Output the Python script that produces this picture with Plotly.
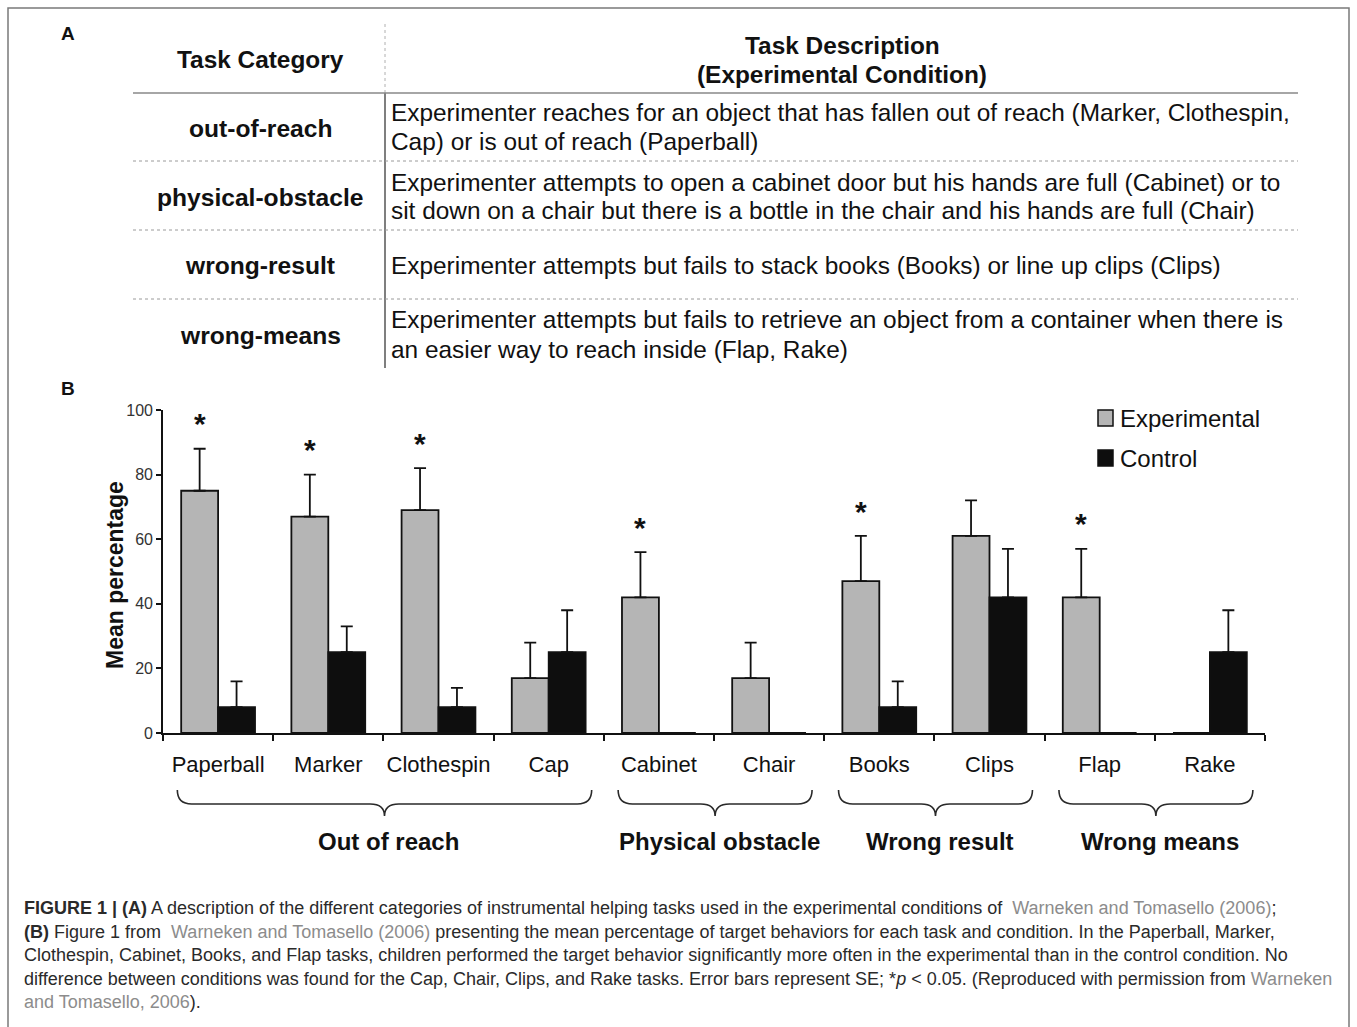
import plotly.graph_objects as go

# ---- data -------------------------------------------------------------
tasks = ["Paperball", "Marker", "Clothespin", "Cap", "Cabinet",
         "Chair", "Books", "Clips", "Flap", "Rake"]
experimental = [75, 67, 69, 17, 42, 17, 47, 61, 42, 0]
experimental_se = [13, 13, 13, 11, 14, 11, 14, 11, 15, 0]
control = [8, 25, 8, 25, 0, 0, 8, 42, 0, 25]
control_se = [8, 8, 6, 13, 0, 0, 8, 15, 0, 13]
significant = [True, True, True, False, True, False, True, False, True, False]

groups = ["Out of reach", "Physical obstacle", "Wrong result", "Wrong means"]
group_first = [0, 4, 6, 8]
group_last = [3, 5, 7, 9]

table_categories = ["out-of-reach", "physical-obstacle", "wrong-result", "wrong-means"]
table_descriptions = [
    ["Experimenter reaches for an object that has fallen out of reach (Marker, Clothespin,",
     "Cap) or is out of reach (Paperball)"],
    ["Experimenter attempts to open a cabinet door but his hands are full (Cabinet) or to",
     "sit down on a chair but there is a bottle in the chair and his hands are full (Chair)"],
    ["Experimenter attempts but fails to stack books (Books) or line up clips (Clips)"],
    ["Experimenter attempts but fails to retrieve an object from a container when there is",
     "an easier way to reach inside (Flap, Rake)"],
]

LINK = "<span style='color:#8c8c8c'>{}</span>"
caption_lines = [
    "<b>FIGURE 1 | (A)</b> A description of the different categories of instrumental helping "
    "tasks used in the experimental conditions of  " + LINK.format("Warneken and Tomasello (2006)") + ";",
    "<b>(B)</b> Figure 1 from  " + LINK.format("Warneken and Tomasello (2006)") +
    " presenting the mean percentage of target behaviors for each task and condition. In the Paperball, Marker,",
    "Clothespin, Cabinet, Books, and Flap tasks, children performed the target behavior significantly "
    "more often in the experimental than in the control condition. No",
    "difference between conditions was found for the Cap, Chair, Clips, and Rake tasks. Error bars "
    "represent SE; *<i>p</i> &lt; 0.05. (Reproduced with permission from " + LINK.format("Warneken"),
    LINK.format("and Tomasello, 2006") + ").",
]

# ---- page geometry (pixels) -------------------------------------------
W, H = 1357, 1027
FONT = "Liberation Sans, Arial, Helvetica, sans-serif"
INK = "#111111"


def px(x):
    return x / W


def py(y):
    return 1 - y / H


idx = list(range(len(tasks)))
fig = go.Figure()

fig.add_bar(
    x=idx, y=experimental, name="Experimental",
    marker=dict(color="#b5b5b5", line=dict(color=INK, width=1.8)),
    error_y=dict(type="data", array=experimental_se, arrayminus=[0] * len(tasks),
                 symmetric=False, color=INK, thickness=1.8, width=6),
)
fig.add_bar(
    x=idx, y=control, name="Control",
    marker=dict(color="#0e0e0e", line=dict(color=INK, width=1.8)),
    error_y=dict(type="data", array=control_se, arrayminus=[0] * len(tasks),
                 symmetric=False, color=INK, thickness=1.8, width=6),
)

annotations = []
shapes = []


def text(x, y, s, size, bold=False, anchor="center", color=INK, **kw):
    annotations.append(dict(
        x=px(x), y=py(y), xref="paper", yref="paper", showarrow=False,
        text=f"<b>{s}</b>" if bold else s, xanchor=anchor, yanchor="middle",
        font=dict(family=FONT, size=size, color=color), **kw))


def line(x0, y0, x1, y1, color, width, dash="solid"):
    shapes.append(dict(type="line", xref="paper", yref="paper",
                       x0=px(x0), y0=py(y0), x1=px(x1), y1=py(y1),
                       line=dict(color=color, width=width, dash=dash)))


# outer frame
shapes.append(dict(type="rect", xref="paper", yref="paper",
                   x0=px(8), y0=py(8), x1=px(1349), y1=py(1040),
                   line=dict(color="#7a7a7a", width=1.5)))

# ---- panel A: task table ---------------------------------------------
text(68, 33, "A", 19, bold=True)
text(260, 60, "Task Category", 24.4, bold=True)
text(842, 45, "Task Description", 24.4, bold=True)
text(842, 74, "(Experimental Condition)", 24.4, bold=True)

line(385, 24, 385, 93, "#b0b0b0", 1, "dot")
line(385, 93, 385, 368, "#555555", 1.5)
line(133, 93, 1298, 93, "#888888", 1.5)
for yy in [161, 230, 299]:
    line(133, yy, 1298, yy, "#9a9a9a", 1, "dot")

row_centers = [128, 197, 266, 335]
for cat, desc, yc in zip(table_categories, table_descriptions, row_centers):
    text(260, yc, cat, 24.6, bold=True)
    if len(desc) == 1:
        text(389, yc, desc[0], 24.4, anchor="left")
    else:
        text(389, yc - 15, desc[0], 24.4, anchor="left")
        text(389, yc + 14, desc[1], 24.4, anchor="left")

# ---- panel B: bar chart ----------------------------------------------
text(68, 388, "B", 19, bold=True)
text(115, 575, "Mean percentage", 23, bold=True, textangle=-90)

# significance markers above the experimental bars
bar_offset = (1 - 0.33) / 4
for i, sig in enumerate(significant):
    if sig:
        annotations.append(dict(
            x=i - bar_offset, y=experimental[i] + experimental_se[i] + 2,
            xref="x", yref="y", text="<b>*</b>", showarrow=False,
            xanchor="center", yanchor="bottom",
            font=dict(family=FONT, size=30, color=INK)))

# legend drawn as swatches + labels
for yc, name, fill in [(418, "Experimental", "#b5b5b5"), (458, "Control", "#0e0e0e")]:
    shapes.append(dict(type="rect", xref="paper", yref="paper",
                       x0=px(1098), y0=py(yc - 8), x1=px(1113), y1=py(yc + 8),
                       fillcolor=fill, line=dict(color=INK, width=1.5)))
    text(1118, yc, name, 24, anchor="left")


# curly braces grouping the tasks
def brace_path(x0, x1, y_top, y_mid, y_tip, dx):
    xc = (x0 + x1) / 2
    return (f"M {x0},{y_top} Q {x0},{y_mid} {x0 + dx},{y_mid} "
            f"L {xc - dx},{y_mid} Q {xc},{y_mid} {xc},{y_tip} "
            f"Q {xc},{y_mid} {xc + dx},{y_mid} "
            f"L {x1 - dx},{y_mid} Q {x1},{y_mid} {x1},{y_top}")


for name, a, b in zip(groups, group_first, group_last):
    x0, x1 = a - 0.37, b + 0.39
    shapes.append(dict(type="path", xref="x", yref="paper",
                       path=brace_path(x0, x1, py(790), py(804), py(816), 0.13),
                       line=dict(color="#2a2a2a", width=1.6)))
    annotations.append(dict(
        x=(x0 + x1) / 2 + 0.04, y=py(841), xref="x", yref="paper", text=f"<b>{name}</b>",
        showarrow=False, xanchor="center", yanchor="middle",
        font=dict(family=FONT, size=24, color=INK)))

# ---- caption ----------------------------------------------------------
for k, s in enumerate(caption_lines):
    text(22, 908 + k * 23.5, s, 18, anchor="left", color="#2a2a2a")

fig.update_layout(
    width=W, height=H,
    margin=dict(l=0, r=0, t=0, b=0, pad=0, autoexpand=False),
    paper_bgcolor="white", plot_bgcolor="white",
    barmode="group", bargap=0.33, bargroupgap=0,
    showlegend=False,
    annotations=annotations, shapes=shapes,
    xaxis=dict(
        domain=[px(163), px(1265)], range=[-0.5, len(tasks) - 0.5],
        tickvals=idx, ticktext=tasks, ticks="",
        tickfont=dict(family=FONT, size=22, color=INK),
        ticklabelstandoff=11, automargin=False,
        minor=dict(tickvals=[i - 0.5 for i in range(len(tasks) + 1)],
                   ticks="outside", ticklen=6, tickwidth=1.5, tickcolor=INK,
                   showgrid=False),
        showline=True, linecolor=INK, linewidth=1.6,
        showgrid=False, zeroline=False,
    ),
    yaxis=dict(
        domain=[py(733), py(410)], range=[0, 100], automargin=False,
        tickvals=[0, 20, 40, 60, 80, 100], ticks="outside", ticklen=5,
        tickwidth=1.5, tickcolor=INK,
        tickfont=dict(family=FONT, size=16, color="#333333"),
        showline=True, linecolor=INK, linewidth=1.6,
        showgrid=False, zeroline=False,
    ),
)

fig.write_html("out.html")
